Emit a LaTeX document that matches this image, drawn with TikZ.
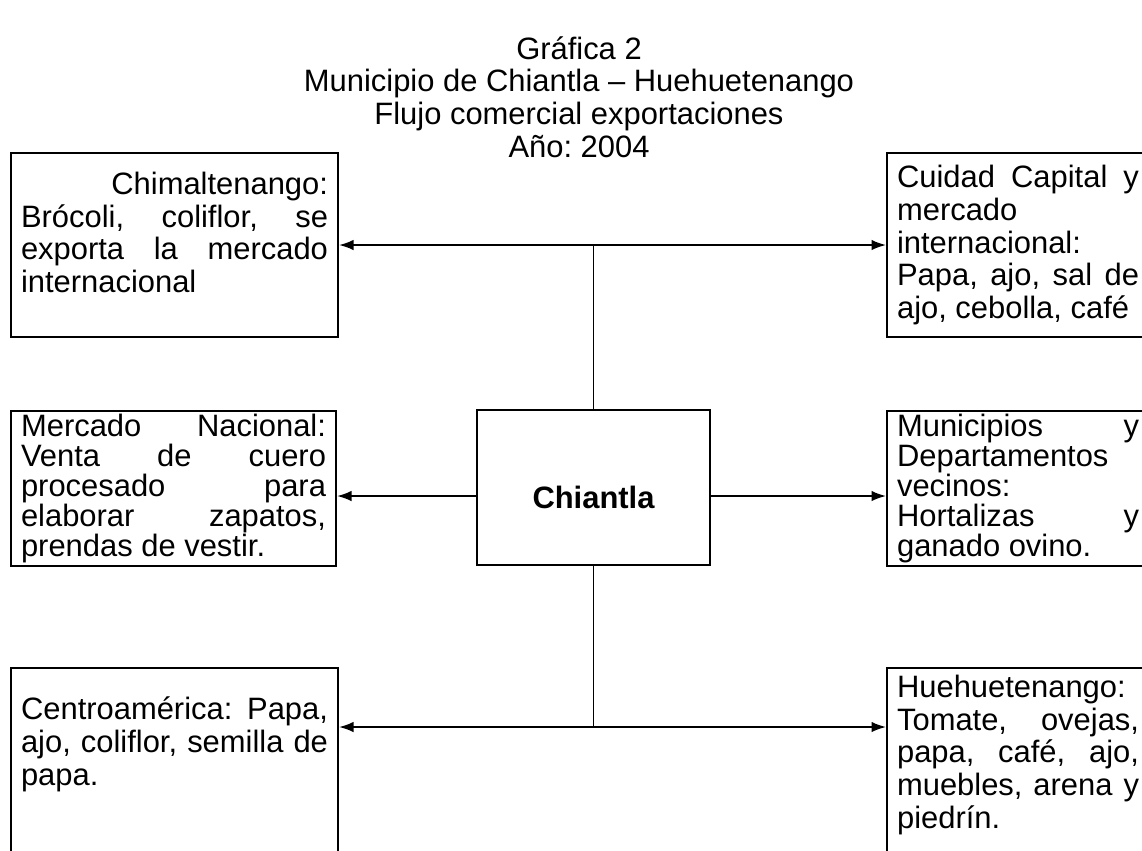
\documentclass[tikz,border=0pt]{standalone}
\usepackage{fontspec}
\setmainfont{Liberation Sans}
\usetikzlibrary{arrows.meta}

\newcommand{\jline}[1]{\makebox[\linewidth][s]{#1}}

\begin{document}
\frenchspacing
\begin{tikzpicture}[x=0.02cm, y=-0.02cm,
  every node/.style={font=\fontsize{17.6}{18.6}\selectfont},
  infobox/.style={draw, line width=1.2pt, anchor=north west, inner xsep=0.2cm, inner ysep=0pt},
  hub/.style={draw, line width=1.2pt, minimum width=4.66cm, minimum height=3.1cm,
    text height=0.84cm, text depth=0cm, font=\fontsize{17.6}{18.6}\selectfont\bfseries},
  flow/.style={line width=1pt},
  flowarrow/.style={flow, -{Latex[length=0.29cm, width=0.21cm]}}]
\useasboundingbox (0,0) rectangle (1142,850);
%
\node[align=center] (title) at (579,97) {Gráfica 2\\Municipio de Chiantla – Huehuetenango\\Flujo comercial exportaciones\\Año: 2004};
%
\node[hub] (chiantla) at (593.5,487.5) {Chiantla};
%
\node[infobox] (chim) at (10,152) {\parbox[c][3.68cm][t]{6.14cm}{\vspace*{0.38cm}\mbox{}\hfill Chimaltenango:\\
  \jline{Brócoli, coliflor, se}\\
  \jline{exporta la mercado}\\
  internacional}};
\node[infobox] (capital) at (886,152) {\parbox[c][3.68cm][c]{4.84cm}{\jline{Cuidad Capital y}\\
  mercado\\
  internacional:\\
  \jline{Papa, ajo, sal de}\\
  ajo, cebolla, café}};
\node[infobox] (nacional) at (10,410) {\parbox[c][3.1cm][c]{6.1cm}{\fontsize{17.6}{17}\selectfont
  \jline{Mercado Nacional:}\\
  \jline{Venta de cuero}\\
  \jline{procesado para}\\
  \jline{elaborar zapatos,}\\
  prendas de vestir.}};
\node[infobox] (vecinos) at (886,410) {\parbox[c][3.1cm][c]{4.84cm}{\fontsize{17.6}{17}\selectfont
  \jline{Municipios y}\\
  Departamentos\\
  vecinos:\\
  \jline{Hortalizas y}\\
  ganado ovino.}};
\node[infobox] (centro) at (10,667) {\parbox[c][5cm][t]{6.14cm}{\vspace*{0.58cm}\jline{Centroamérica: Papa,}\\
  \jline{ajo, coliflor, semilla de}\\
  papa.}};
\node[infobox] (huehue) at (886,667) {\parbox[c][5cm][t]{4.84cm}{\vspace*{0.14cm}Huehuetenango:\\
  \jline{Tomate, ovejas,}\\
  \jline{papa, café, ajo,}\\
  \jline{muebles, arena y}\\
  piedrín.}};
%
\coordinate (upper) at (593.5,245);
\coordinate (middle) at (593.5,496);
\coordinate (lower) at (593.5,727);
%
\draw[flow] (chiantla.north) -- (upper);
\draw[flowarrow] (upper) -- (upper -| chim.east);
\draw[flowarrow] (upper) -- (upper -| capital.west);
\draw[flowarrow] (middle -| chiantla.west) -- (middle -| nacional.east);
\draw[flowarrow] (middle -| chiantla.east) -- (middle -| vecinos.west);
\draw[flow] (chiantla.south) -- (lower);
\draw[flowarrow] (lower) -- (lower -| centro.east);
\draw[flowarrow] (lower) -- (lower -| huehue.west);
%
\end{tikzpicture}
\end{document}
